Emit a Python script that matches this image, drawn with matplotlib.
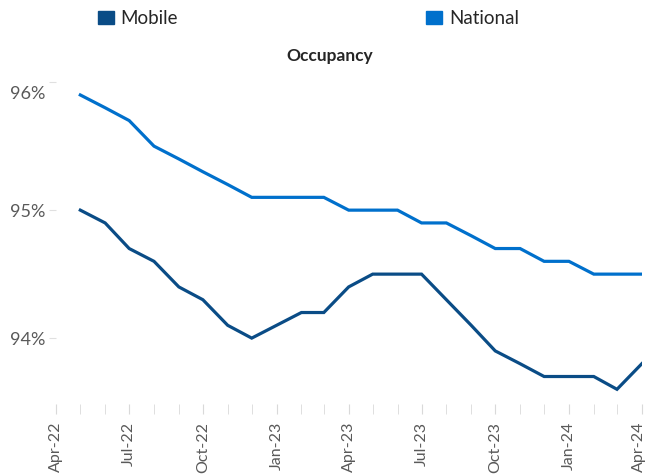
import datetime as dt
import matplotlib
matplotlib.use('Agg')
import matplotlib.pyplot as plt
import matplotlib.dates as mdates
import matplotlib.transforms as mtrans
from matplotlib.patches import Rectangle
from matplotlib.ticker import FuncFormatter

plt.rcParams['font.family'] = ['Lato', 'DejaVu Sans']

# monthly values, May-22 .. Apr-24
months = [dt.date(2022 + (4 + i) // 12, (4 + i) % 12 + 1, 1) for i in range(24)]
mobile = [95.0, 94.9, 94.7, 94.6, 94.4, 94.3, 94.1, 94.0, 94.1, 94.2, 94.2, 94.4,
          94.5, 94.5, 94.5, 94.3, 94.1, 93.9, 93.8, 93.7, 93.7, 93.7, 93.6, 93.8]
national = [95.9, 95.8, 95.7, 95.5, 95.4, 95.3, 95.2, 95.1, 95.1, 95.1, 95.1, 95.0,
            95.0, 95.0, 94.9, 94.9, 94.8, 94.7, 94.7, 94.6, 94.6, 94.5, 94.5, 94.5]
yticks = [94, 95, 96]

mob_col = '#0A4C86'
nat_col = '#0070CC'

fig = plt.figure(figsize=(6.47, 4.75), dpi=100)
ax = fig.add_axes([0.087, 0.14, 0.905, 0.687])

ax.plot(months, national, color=nat_col, lw=2.3, solid_joinstyle='miter')
ax.plot(months, mobile, color=mob_col, lw=2.3, solid_joinstyle='miter')

ax.set_xlim(dt.date(2022, 4, 1), dt.date(2024, 4, 1))
ax.set_ylim(93.45, 96.0)

ax.xaxis.set_major_locator(mdates.MonthLocator(bymonth=[1, 4, 7, 10]))
ax.xaxis.set_minor_locator(mdates.MonthLocator())
ax.xaxis.set_major_formatter(mdates.DateFormatter('%b-%y'))
ax.tick_params(axis='x', which='both', direction='inout', length=7, color='#d9d9d9',
               labelsize=11.5, labelcolor='#595959', pad=6)
plt.setp(ax.get_xticklabels(), rotation=90)

ax.set_yticks(yticks)
ax.yaxis.set_major_formatter(FuncFormatter(lambda v, p: '%d%%' % v))
ax.tick_params(axis='y', length=5, color='#e0e0e0', labelsize=13,
               labelcolor='#595959', pad=3)
for s in ax.spines.values():
    s.set_visible(False)
ax.set_clip_on(False)

# small nudges like the original: top y label sits lower, last x label kept inside
fig.canvas.draw()
xl = ax.get_xticklabels()
xl[-1].set_transform(xl[-1].get_transform() + mtrans.ScaledTranslation(-0.03, 0, fig.dpi_scale_trans))
yl = ax.get_yticklabels()
yl[-1].set_transform(yl[-1].get_transform() + mtrans.ScaledTranslation(0, -0.1, fig.dpi_scale_trans))

fig.text(0.51, 0.882, 'Occupancy', ha='center', va='center', fontsize=12.5,
         fontweight='bold', color='#262626')

# legend
fig.add_artist(Rectangle((98 / 647, 1 - 24 / 475), 16 / 647, 13 / 475,
                         transform=fig.transFigure, color=mob_col))
fig.text(120 / 647, 1 - 18 / 475, 'Mobile', va='center', fontsize=13.5, color='#262626')
fig.add_artist(Rectangle((426 / 647, 1 - 24 / 475), 16 / 647, 13 / 475,
                         transform=fig.transFigure, color=nat_col))
fig.text(449 / 647, 1 - 18 / 475, 'National', va='center', fontsize=13.5, color='#262626')

fig.savefig('out.png', dpi=100)
